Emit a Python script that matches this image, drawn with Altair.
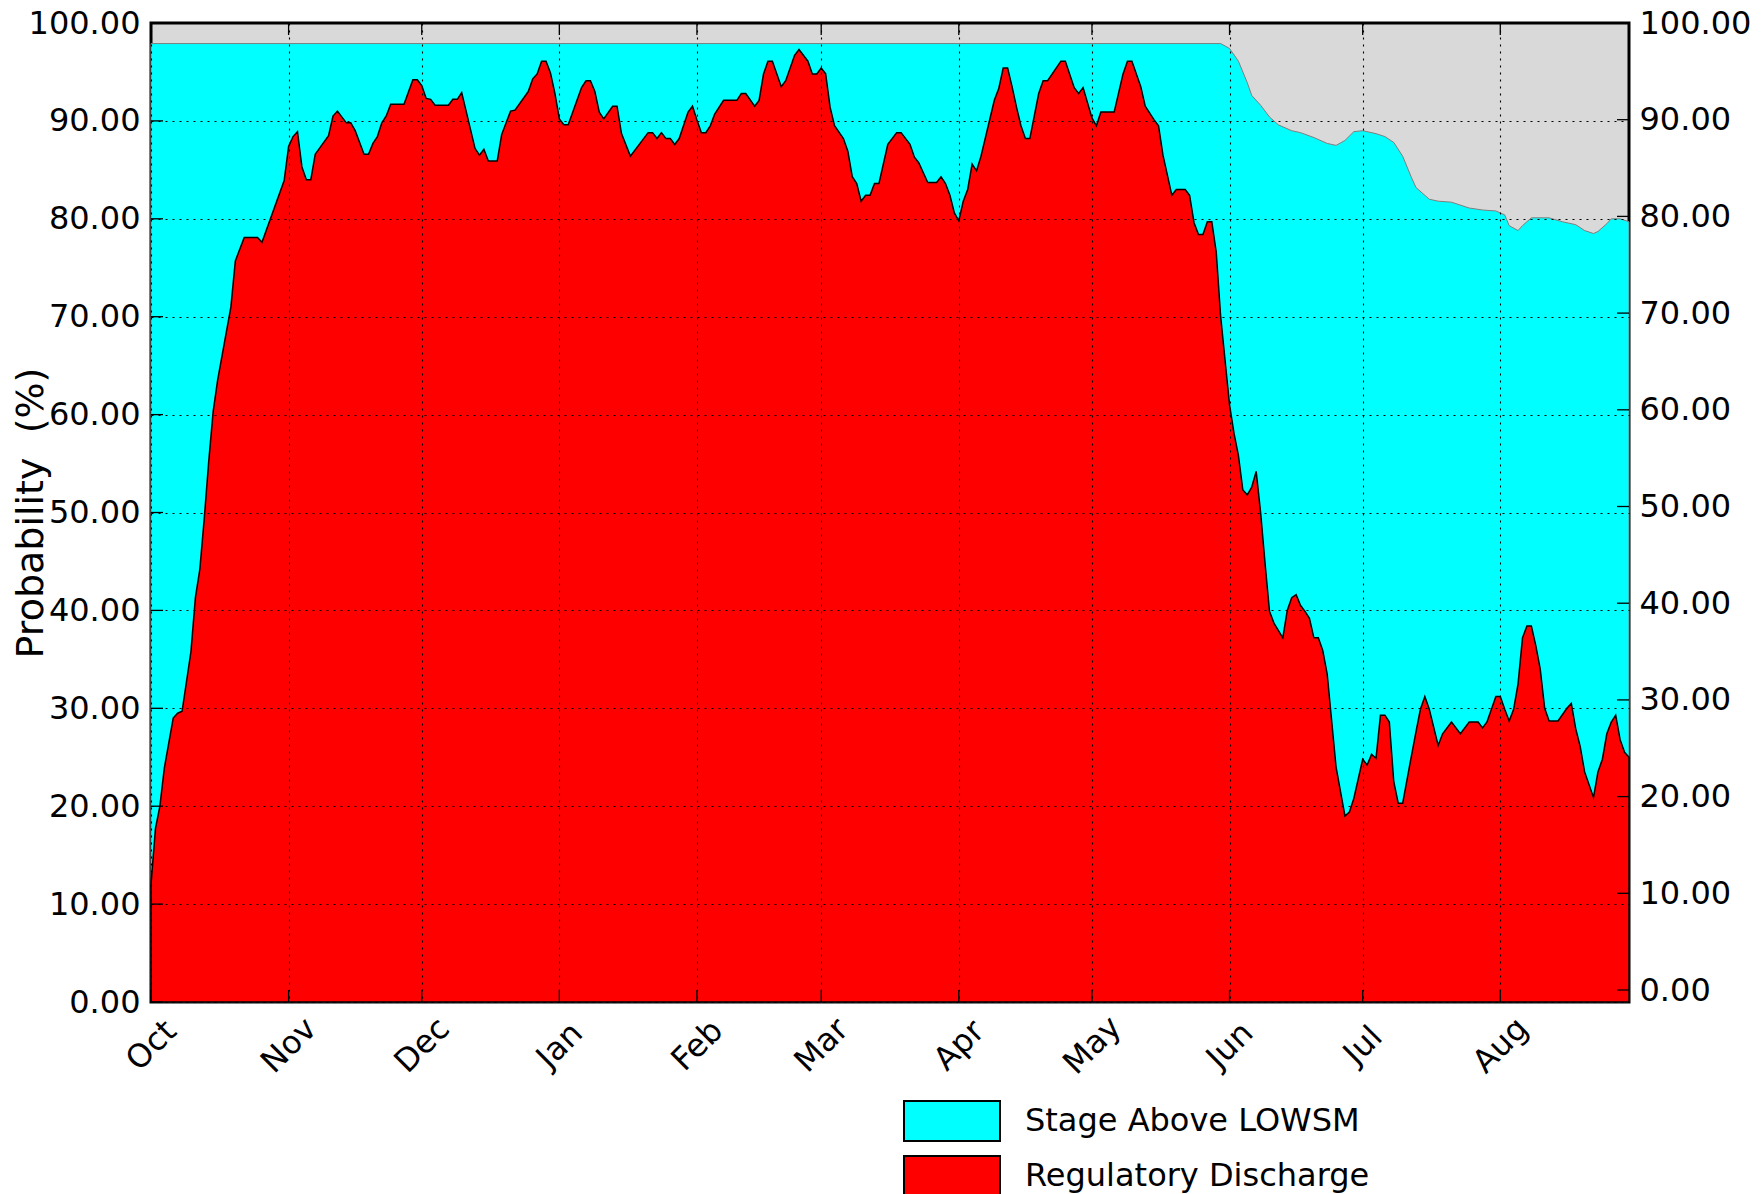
import altair as alt
import pandas as pd

base_date = "2016-10-01"
end_date = "2017-08-30"

# Regulatory Discharge probability (%), day offsets from Oct 1
red_day = [0, 1, 2, 3, 5, 6, 7, 9, 10, 11, 12, 13, 14, 15, 18, 19, 21, 24, 25, 30,
           31, 32, 33, 34, 35, 36, 37, 40, 41, 42, 44, 45, 46, 48, 49, 50, 51, 52, 53, 54,
           57, 59, 60, 61, 62, 63, 64, 67, 68, 69, 70, 73, 74, 75, 76, 78, 79, 81, 82, 85,
           86, 87, 88, 89, 90, 91, 92, 93, 94, 97, 98, 99, 100, 101, 102, 104, 105, 106, 108, 112,
           113, 114, 115, 116, 117, 118, 119, 121, 122, 123, 124, 125, 126, 127, 129, 132, 133, 134, 136, 137,
           138, 139, 140, 142, 143, 145, 146, 148, 149, 150, 151, 152, 153, 154, 156, 157, 158, 159, 160, 161,
           162, 163, 164, 166, 168, 169, 171, 172, 173, 175, 177, 178, 179, 180, 181, 182, 183, 184, 185, 186,
           187, 190, 191, 192, 193, 194, 195, 196, 197, 198, 200, 201, 202, 205, 206, 208, 209, 210, 212, 213,
           214, 217, 219, 220, 221, 223, 224, 226, 227, 228, 230, 231, 233, 234, 235, 236, 237, 238, 239, 240,
           241, 242, 243, 244, 245, 246, 247, 248, 249, 250, 251, 252, 253, 255, 256, 257, 258, 259, 260, 261,
           262, 263, 264, 265, 267, 269, 270, 271, 273, 274, 275, 276, 277, 278, 279, 280, 281, 282, 284, 285,
           286, 287, 288, 290, 291, 293, 295, 297, 299, 300, 301, 303, 304, 305, 306, 307, 308, 309, 310, 311,
           312, 313, 314, 315, 317, 319, 320, 321, 322, 323, 325, 326, 327, 328, 329, 330, 331, 332, 333]
red_pct = [12.0, 17.7, 20.0, 23.9, 29.0, 29.5, 29.7, 35.8, 41.3, 44.2, 49.4, 55.2, 60.3, 63.5, 71.0, 75.7, 78.1, 78.1, 77.6, 83.9,
           87.4, 88.4, 88.9, 85.3, 84.0, 84.0, 86.6, 88.5, 90.5, 91.0, 89.8, 89.8, 89.0, 86.6, 86.6, 87.7, 88.4, 89.8, 90.5, 91.7,
           91.7, 94.2, 94.2, 93.6, 92.3, 92.2, 91.6, 91.6, 92.2, 92.2, 92.9, 87.2, 86.5, 87.1, 85.9, 85.9, 88.6, 91.0, 91.1, 93.0,
           94.3, 94.8, 96.1, 96.1, 94.9, 92.8, 90.2, 89.6, 89.6, 93.4, 94.1, 94.1, 93.0, 90.9, 90.2, 91.5, 91.5, 88.7, 86.4, 88.8,
           88.8, 88.2, 88.8, 88.2, 88.2, 87.6, 88.2, 90.9, 91.5, 90.1, 88.8, 88.8, 89.5, 90.7, 92.1, 92.1, 92.8, 92.8, 91.5, 92.1,
           94.8, 96.1, 96.1, 93.5, 94.1, 96.7, 97.3, 96.1, 94.8, 94.8, 95.4, 94.8, 91.4, 89.5, 88.2, 86.9, 84.3, 83.6, 81.8, 82.4,
           82.4, 83.6, 83.6, 87.6, 88.8, 88.8, 87.6, 86.3, 85.7, 83.7, 83.7, 84.3, 83.6, 82.4, 80.6, 79.8, 81.8, 83.0, 85.6, 84.9,
           86.4, 92.1, 93.3, 95.4, 95.4, 93.5, 91.4, 89.5, 88.2, 88.2, 92.8, 94.1, 94.1, 96.1, 96.1, 93.4, 92.8, 93.4, 90.3, 89.5,
           90.9, 90.9, 94.8, 96.1, 96.1, 93.5, 91.5, 90.1, 89.5, 86.5, 82.4, 83.0, 83.0, 82.4, 79.6, 78.4, 78.4, 79.7, 79.7, 76.6,
           70.0, 65.5, 61.0, 58.1, 55.8, 52.3, 51.8, 52.6, 54.2, 50.0, 44.8, 39.9, 38.7, 37.2, 40.0, 41.3, 41.6, 40.5, 39.9, 39.2,
           37.2, 37.2, 35.9, 33.5, 24.0, 19.0, 19.4, 20.8, 24.8, 24.2, 25.3, 24.9, 29.3, 29.3, 28.6, 22.5, 20.3, 20.3, 25.2, 27.6,
           29.9, 31.2, 29.9, 26.2, 27.4, 28.6, 27.4, 28.6, 28.6, 28.0, 28.6, 31.2, 31.2, 29.9, 28.7, 29.9, 32.5, 37.2, 38.4, 38.4,
           36.4, 34.0, 30.0, 28.7, 28.7, 30.0, 30.5, 27.9, 26.1, 23.5, 20.9, 23.5, 24.8, 27.4, 28.6, 29.3, 26.8, 25.5, 25.0]

# Stage Above LOWSM probability (%)
cyan_day = [0, 241, 243, 245, 247, 248, 250, 252, 254, 257, 259, 262, 265, 267, 269, 271, 273, 276, 278, 280,
            282, 284, 285, 288, 290, 293, 297, 300, 303, 305, 306, 308, 309, 311, 315, 318, 321, 323, 325, 326,
            328, 329, 331, 333]
cyan_pct = [97.9, 97.9, 97.4, 96.1, 93.9, 92.6, 91.6, 90.4, 89.6, 89.0, 88.8, 88.3, 87.7, 87.5, 88.0, 88.9, 89.0, 88.7, 88.4, 87.8,
            86.4, 84.2, 83.2, 82.0, 81.8, 81.7, 81.1, 80.9, 80.8, 80.4, 79.3, 78.8, 79.3, 80.1, 80.1, 79.7, 79.4, 78.8, 78.5, 78.7,
            79.5, 80.0, 80.0, 79.7]

month_starts = ["2016-10-01", "2016-11-01", "2016-12-01", "2017-01-01", "2017-02-01", "2017-03-01",
                "2017-04-01", "2017-05-01", "2017-06-01", "2017-07-01", "2017-08-01"]
y_ticks = [0, 10, 20, 30, 40, 50, 60, 70, 80, 90, 100]
series_names = ["Stage Above LOWSM", "Regulatory Discharge"]
series_colors = ["#00ffff", "#ff0000"]

FONT = "DejaVu Sans"
FS = 32
W, H = 1478, 979


def to_dates(days):
    return list((pd.Timestamp(base_date) + pd.to_timedelta(days, unit="D")).strftime("%Y-%m-%d"))


def ms(d):
    return int(pd.Timestamp(d).value // 10**6)


red_df = pd.DataFrame({"date": to_dates(red_day), "pct": red_pct, "series": series_names[1]})
cyan_df = pd.DataFrame({"date": to_dates(cyan_day), "pct": cyan_pct, "series": series_names[0]})
xt_df = pd.DataFrame({"date": month_starts})
yt_df = pd.DataFrame({"pct": y_ticks})

x_scale = alt.Scale(type="utc", domain=[ms(base_date), ms(end_date)], nice=False)
y_scale = alt.Scale(domain=[0, 100], nice=False, zero=False)
y_right_scale = alt.Scale(domain=[-1.24, 100], nice=False, zero=False)

color = alt.Color(
    "series:N",
    scale=alt.Scale(domain=series_names, range=series_colors),
    legend=alt.Legend(
        title=None, orient="none", legendX=780, legendY=1077, padding=0,
        symbolType="M-2.4,-1H2.4V1H-2.4Z", symbolSize=1600,
        symbolStrokeColor="black", symbolStrokeWidth=2, symbolOpacity=1,
        labelFont=FONT, labelFontSize=FS, labelColor="black", labelOffset=52,
        labelLimit=0, rowPadding=7,
    ),
)

x_axis = alt.Axis(
    values=[ms(d) for d in month_starts],
    labelExpr="utcFormat(datum.value, '%b')",
    labelAngle=315, labelAlign="center", labelBaseline="middle", labelPadding=43,
    labelFont=FONT, labelFontSize=FS, labelColor="black",
    ticks=False, domain=False, grid=True, gridColor="black", gridDash=[2, 5],
    gridWidth=1.1, gridOpacity=1, zindex=1, title=None,
)
y_axis = alt.Axis(
    values=y_ticks, format=".2f",
    labelFont=FONT, labelFontSize=FS, labelColor="black", labelPadding=11,
    ticks=False, domain=False, grid=True, gridColor="black", gridDash=[2, 5],
    gridWidth=1.1, gridOpacity=1, zindex=1,
    title="Probability\u00a0 (%)", titleFont=FONT, titleFontSize=38, titleFontWeight="normal",
    titleColor="black", titleAngle=270, titleX=-120, titleY=H / 2,
    titleAlign="center", titleBaseline="middle",
)
y_right_axis = alt.Axis(
    orient="right", values=y_ticks, format=".2f",
    labelFont=FONT, labelFontSize=FS, labelColor="black", labelPadding=10,
    ticks=False, domain=False, grid=False, title=None,
)

X = alt.X("date:T", scale=x_scale, axis=x_axis)
Y = alt.Y("pct:Q", scale=y_scale, axis=y_axis)

cyan_area = alt.Chart(cyan_df).mark_area(stroke="#7f7f7f", strokeWidth=1, opacity=1).encode(
    x=X, y=Y, color=color,
)
red_area = alt.Chart(red_df).mark_area(stroke="black", strokeWidth=1.5, opacity=1).encode(
    x=X, y=Y, color=color,
)
bottom_ticks = alt.Chart(xt_df).mark_rule(color="black", strokeWidth=1.3).encode(
    x=X, y=alt.value(H), y2=alt.value(H - 12),
)
top_ticks = alt.Chart(xt_df).mark_rule(color="black", strokeWidth=1.3).encode(
    x=X, y=alt.value(0), y2=alt.value(12),
)
left_ticks = alt.Chart(yt_df).mark_rule(color="black", strokeWidth=1.3).encode(
    y=Y, x=alt.value(0), x2=alt.value(12),
)
main = alt.layer(cyan_area, red_area, bottom_ticks, top_ticks, left_ticks)

right_ticks = alt.Chart(yt_df).mark_rule(color="black", strokeWidth=1.3).encode(
    y=alt.Y("pct:Q", scale=y_right_scale, axis=y_right_axis),
    x=alt.value(W - 12), x2=alt.value(W),
)

chart = alt.layer(main, right_ticks).resolve_scale(y="independent").properties(
    width=W, height=H,
    autosize=alt.AutoSizeParams(type="none"),
    padding={"left": 143, "top": 15, "right": 124, "bottom": 192},
    background="white",
).configure_view(
    fill="#d9d9d9", stroke="black", strokeWidth=3,
)

chart.save("out.html", embed_options={"renderer": "svg", "actions": False})
